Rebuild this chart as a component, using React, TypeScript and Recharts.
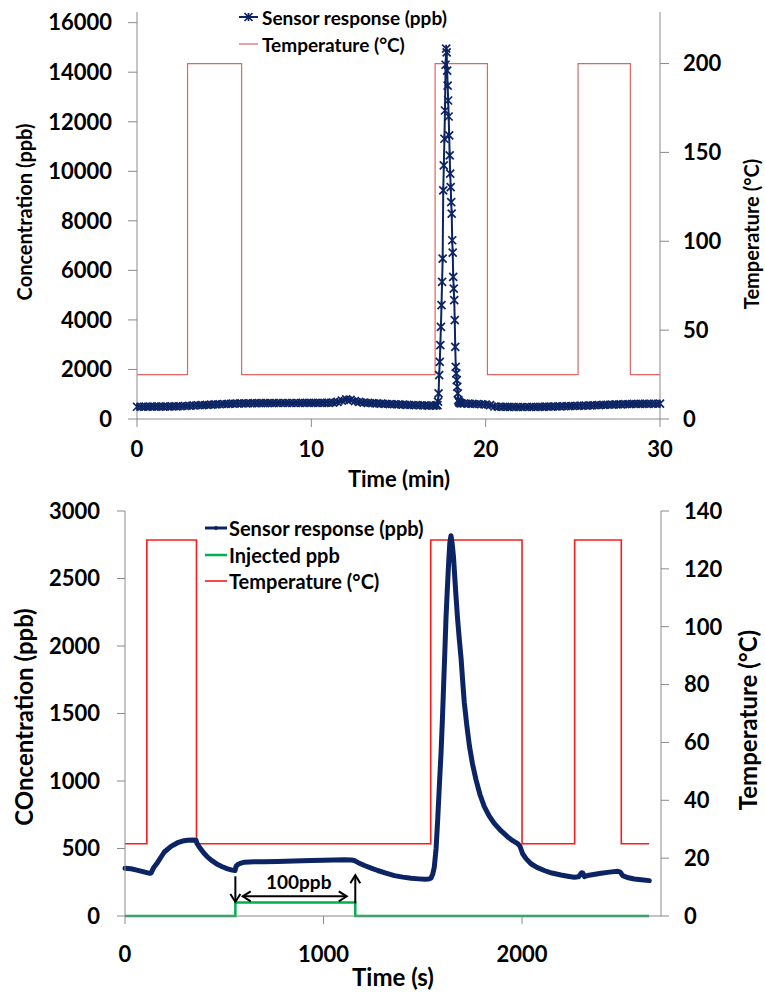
import React from 'react'
import { LineChart, Line, XAxis, YAxis, ReferenceLine } from 'recharts'

const FONT = 'Lato, "Open Sans", sans-serif'
const NAVY = '#0c2463'
const AXIS_GREY = '#8a8a8a'

// ---- top panel: time in minutes ----
const topTimeTicks = [0, 10, 20, 30]
const topConcTicks = [0, 2000, 4000, 6000, 8000, 10000, 12000, 14000, 16000]
const topTempTicks = [0, 50, 100, 150, 200]

// sensor response (ppb) vs time (min)
const topSensor: [number, number][] = [
  [0, 495], [0.25, 495], [0.5, 498], [0.75, 498], [1, 500], [1.25, 500], [1.5, 503], [1.75, 505],
  [2, 508], [2.25, 512], [2.5, 515], [2.75, 525], [3, 535], [3.25, 545], [3.5, 555], [3.75, 562],
  [4, 570], [4.25, 580], [4.5, 588], [4.75, 596], [5, 605], [5.25, 612], [5.5, 620], [5.75, 625],
  [6, 630], [6.25, 634], [6.5, 636], [6.75, 638], [7, 640], [7.25, 642], [7.5, 643], [7.75, 644],
  [8, 645], [8.25, 645], [8.5, 646], [8.75, 646], [9, 645], [9.25, 646], [9.5, 647], [9.75, 648],
  [10, 648], [10.25, 649], [10.5, 650], [10.75, 652], [11, 655], [11.25, 665], [11.5, 690], [11.75, 740],
  [12, 790], [12.25, 770], [12.5, 720], [12.75, 690], [13, 665], [13.25, 652], [13.5, 640], [13.75, 630],
  [14, 620], [14.25, 612], [14.5, 603], [14.75, 596], [15, 588], [15.25, 580], [15.5, 574], [15.75, 566],
  [16, 560], [16.25, 555], [16.5, 548], [16.75, 542], [17, 538], [17.15, 545],
  [17.233, 560], [17.267, 700], [17.3, 1036], [17.333, 1773], [17.367, 2310], [17.4, 2982],
  [17.433, 3720], [17.467, 4595], [17.5, 5534], [17.533, 6477], [17.567, 9229], [17.6, 10237],
  [17.633, 11313], [17.667, 12454], [17.7, 14300], [17.733, 14950],
  [17.762, 14800], [17.791, 14066], [17.82, 13461], [17.849, 12857], [17.878, 12212], [17.907, 11446],
  [17.936, 10640], [17.965, 9902], [17.994, 9362], [18.023, 8757], [18.052, 8290], [18.081, 7215],
  [18.11, 6719], [18.139, 5735], [18.168, 5267], [18.197, 4796], [18.226, 3990], [18.255, 2914],
  [18.284, 2108], [18.313, 1842], [18.342, 1572], [18.371, 1302], [18.4, 1036], [18.43, 766],
  [18.46, 700], [18.5, 660], [18.55, 640], [18.6, 632], [18.75, 625],
  [19, 618], [19.25, 612], [19.5, 605], [19.75, 595], [20, 585], [20.25, 560], [20.5, 505], [20.75, 495],
  [21, 490], [21.25, 488], [21.5, 486], [21.75, 485], [22, 485], [22.25, 484], [22.5, 484], [22.75, 486],
  [23, 488], [23.25, 492], [23.5, 496], [23.75, 500], [24, 505], [24.25, 510], [24.5, 515], [24.75, 520],
  [25, 525], [25.25, 530], [25.5, 535], [25.75, 540], [26, 548], [26.25, 555], [26.5, 562], [26.75, 570],
  [27, 576], [27.25, 582], [27.5, 588], [27.75, 594], [28, 600], [28.25, 604], [28.5, 608], [28.75, 610],
  [29, 612], [29.25, 614], [29.5, 615], [29.75, 616], [30, 617],
]

// heater temperature (°C) vs time (min)
const topTemperature: [number, number][] = [
  [0, 25], [2.9, 25], [2.9, 200], [6, 200], [6, 25], [17.1, 25], [17.1, 200],
  [20.1, 200], [20.1, 25], [25.3, 25], [25.3, 200], [28.3, 200], [28.3, 25], [30, 25],
]

// ---- bottom panel: time in seconds ----
const bottomTimeTicks = [0, 1000, 2000]
const bottomConcTicks = [0, 500, 1000, 1500, 2000, 2500, 3000]
const bottomTempTicks = [0, 20, 40, 60, 80, 100, 120, 140]

const bottomSensor: [number, number][] = [
  [0, 354], [30, 350], [60, 340], [100, 325], [125, 316], [131, 318], [145, 360], [165, 399],
  [198, 474], [232, 516], [265, 543], [290, 555], [316, 561], [340, 563], [358, 561], [362, 540],
  [374, 511], [395, 470], [416, 436], [440, 408], [467, 381], [490, 365], [517, 349], [540, 340],
  [554, 337], [560, 370], [568, 381], [585, 392], [602, 399], [650, 401], [700, 402], [769, 404],
  [850, 408], [937, 411], [1000, 413], [1050, 414], [1105, 416], [1140, 415], [1155, 411], [1175, 395],
  [1206, 374], [1240, 355], [1273, 337], [1310, 320], [1357, 299], [1400, 288], [1441, 279], [1480, 275],
  [1510, 272], [1530, 274], [1541, 280], [1550, 310], [1558, 361], [1567, 500], [1575, 711], [1583, 950],
  [1592, 1209], [1599, 1460], [1605, 1708], [1611, 1950], [1617, 2206], [1623, 2400], [1629, 2580],
  [1636, 2760], [1642, 2817], [1648, 2760], [1655, 2655], [1665, 2420], [1675, 2206], [1684, 2050],
  [1693, 1907], [1701, 1740], [1709, 1583], [1722, 1410], [1735, 1259], [1750, 1130], [1768, 1010],
  [1788, 900], [1810, 810], [1835, 740], [1860, 686], [1895, 630], [1928, 586], [1955, 556], [1978, 536],
  [1990, 515], [2003, 461], [2020, 425], [2045, 387], [2075, 360], [2112, 337], [2150, 318], [2196, 304],
  [2230, 295], [2263, 287], [2285, 290], [2300, 320], [2306, 319], [2314, 292], [2330, 300], [2360, 308],
  [2398, 317], [2440, 325], [2482, 331], [2495, 325], [2507, 299], [2530, 285], [2566, 274], [2600, 268],
  [2641, 262],
]

const bottomInjected: [number, number][] = [
  [0, 0], [556, 0], [556, 100], [1160, 100], [1160, 0], [2640, 0],
]

const bottomTemperature: [number, number][] = [
  [0, 25], [110, 25], [110, 130], [360, 130], [360, 25], [1540, 25], [1540, 130],
  [2000, 130], [2000, 25], [2265, 25], [2265, 130], [2500, 130], [2500, 25], [2640, 25],
]

const toRows = (pts: [number, number][]) => pts.map(([t, v]) => ({ t, v }))

const tickStyle = { fontSize: 22, fontWeight: 700, fill: '#000', fontFamily: FONT }

function StarDot(props: any) {
  const { cx, cy, index } = props
  if (cx == null || cy == null) return <g key={index} />
  const s = 4
  return (
    <path
      key={index}
      d={`M${cx - s},${cy - s}L${cx + s},${cy + s}M${cx - s},${cy + s}L${cx + s},${cy - s}M${cx},${cy - s}L${cx},${cy + s}`}
      stroke={NAVY}
      strokeWidth={1.7}
      fill="none"
    />
  )
}

// arrow drawn along a reference segment, heads at the end (and start)
function arrow(both: boolean, caption?: string) {
  return (props: any) => {
    const { x1, y1, x2, y2 } = props
    const len = Math.hypot(x2 - x1, y2 - y1) || 1
    const dx = (x2 - x1) / len
    const dy = (y2 - y1) / len
    const head = (tx: number, ty: number, ux: number, uy: number) =>
      `M${tx - 8 * ux - 5 * uy},${ty - 8 * uy + 5 * ux}L${tx},${ty}L${tx - 8 * ux + 5 * uy},${ty - 8 * uy - 5 * ux}`
    return (
      <g>
        <line x1={x1} y1={y1} x2={x2} y2={y2} stroke="#000" strokeWidth={2} />
        <path d={head(x2, y2, dx, dy)} stroke="#000" strokeWidth={2} fill="none" />
        {both && <path d={head(x1, y1, -dx, -dy)} stroke="#000" strokeWidth={2} fill="none" />}
        {caption && (
          <text
            x={(x1 + x2) / 2 + 4}
            y={y1 - 15}
            textAnchor="middle"
            dominantBaseline="central"
            fontSize={19}
            fontWeight={700}
            fontFamily={FONT}
          >
            {caption}
          </text>
        )}
      </g>
    )
  }
}

function TopPanel() {
  return (
    <div style={{ position: 'relative', width: 765, height: 494 }}>
      <LineChart width={765} height={494} margin={{ top: 12, right: 0, bottom: 0, left: 0 }}>
        <XAxis
          dataKey="t"
          type="number"
          domain={[0, 30]}
          ticks={topTimeTicks}
          height={75}
          tickSize={8}
          tickMargin={14}
          tick={tickStyle}
          stroke={AXIS_GREY}
        />
        <YAxis
          yAxisId="left"
          domain={[0, 16430]}
          ticks={topConcTicks}
          width={137}
          tickSize={9}
          tickMargin={16}
          tick={tickStyle}
          stroke={AXIS_GREY}
        />
        <YAxis
          yAxisId="right"
          orientation="right"
          domain={[0, 229]}
          ticks={topTempTicks}
          width={105}
          tickSize={9}
          tickMargin={14}
          tick={tickStyle}
          stroke={AXIS_GREY}
        />
        <Line
          yAxisId="right"
          data={toRows(topTemperature)}
          dataKey="v"
          type="linear"
          stroke="#e06666"
          strokeWidth={1.2}
          dot={false}
          isAnimationActive={false}
        />
        <Line
          yAxisId="left"
          data={toRows(topSensor)}
          dataKey="v"
          type="linear"
          stroke={NAVY}
          strokeWidth={2}
          dot={(p: any) => <StarDot {...p} key={p.index} />}
          isAnimationActive={false}
        />
      </LineChart>
      <svg width={765} height={494} style={{ position: 'absolute', left: 0, top: 0, pointerEvents: 'none' }}>
        <g fontFamily={FONT} fontWeight={700} fill="#000">
          <line x1={239} y1={17} x2={258} y2={17} stroke={NAVY} strokeWidth={2} />
          <StarDot cx={248.5} cy={17} index="leg" />
          <text x={262} y={17} fontSize={19} dominantBaseline="central">Sensor response (ppb)</text>
          <line x1={239} y1={44} x2={258} y2={44} stroke="#e06666" strokeWidth={1.2} />
          <text x={262} y={44} fontSize={19} dominantBaseline="central">Temperature (°C)</text>
          <text x={24} y={212} fontSize={20} textAnchor="middle" dominantBaseline="central" transform="rotate(-90 24 212)">
            Concentration (ppb)
          </text>
          <text x={751} y={234} fontSize={20} textAnchor="middle" dominantBaseline="central" transform="rotate(-90 751 234)">
            Temperature (°C)
          </text>
          <text x={399} y={478} fontSize={22} textAnchor="middle" dominantBaseline="central">Time (min)</text>
        </g>
      </svg>
    </div>
  )
}

function BottomPanel() {
  return (
    <div style={{ position: 'relative', width: 765, height: 500 }}>
      <LineChart width={765} height={500} margin={{ top: 17, right: 0, bottom: 0, left: 0 }}>
        <XAxis
          dataKey="t"
          type="number"
          domain={[0, 2700]}
          ticks={bottomTimeTicks}
          height={78}
          tickSize={8}
          tickMargin={22}
          tick={tickStyle}
          stroke={AXIS_GREY}
        />
        <YAxis
          yAxisId="left"
          domain={[0, 3000]}
          ticks={bottomConcTicks}
          width={125}
          tickSize={8}
          tickMargin={17}
          tick={tickStyle}
          stroke={AXIS_GREY}
        />
        <YAxis
          yAxisId="right"
          orientation="right"
          domain={[0, 140]}
          ticks={bottomTempTicks}
          width={104}
          tickSize={8}
          tickMargin={15}
          tick={tickStyle}
          stroke={AXIS_GREY}
        />
        <Line
          yAxisId="right"
          data={toRows(bottomTemperature)}
          dataKey="v"
          type="linear"
          stroke="#ff1a1a"
          strokeWidth={1.6}
          dot={false}
          isAnimationActive={false}
        />
        <Line
          yAxisId="left"
          data={toRows(bottomInjected)}
          dataKey="v"
          type="linear"
          stroke="#00b050"
          strokeWidth={2.5}
          dot={false}
          isAnimationActive={false}
        />
        <Line
          yAxisId="left"
          data={toRows(bottomSensor)}
          dataKey="v"
          type="linear"
          stroke={NAVY}
          strokeWidth={5}
          strokeLinejoin="round"
          strokeLinecap="round"
          dot={false}
          isAnimationActive={false}
        />
        <ReferenceLine yAxisId="left" segment={[{ x: 556, y: 294 }, { x: 556, y: 104 }]} shape={arrow(false)} />
        <ReferenceLine yAxisId="left" segment={[{ x: 1160, y: 94 }, { x: 1160, y: 302 }]} shape={arrow(false)} />
        <ReferenceLine yAxisId="left" segment={[{ x: 593, y: 146 }, { x: 1117, y: 146 }]} shape={arrow(true, '100ppb')} />
      </LineChart>
      <svg width={765} height={500} style={{ position: 'absolute', left: 0, top: 0, pointerEvents: 'none' }}>
        <g fontFamily={FONT} fontWeight={700} fill="#000">
          <line x1={205} y1={34} x2={227} y2={34} stroke={NAVY} strokeWidth={3} />
          <circle cx={216} cy={34} r={2} fill={NAVY} />
          <text x={229} y={34} fontSize={20} dominantBaseline="central">Sensor response (ppb)</text>
          <line x1={205} y1={61} x2={227} y2={61} stroke="#00b050" strokeWidth={2.5} />
          <text x={229} y={61} fontSize={20} dominantBaseline="central">Injected ppb</text>
          <line x1={205} y1={87} x2={227} y2={87} stroke="#ff1a1a" strokeWidth={1.6} />
          <text x={229} y={87} fontSize={20} dominantBaseline="central">Temperature (°C)</text>
          <text x={23} y={223} fontSize={24} textAnchor="middle" dominantBaseline="central" transform="rotate(-90 23 223)">
            COncentration (ppb)
          </text>
          <text x={747} y={226} fontSize={24} textAnchor="middle" dominantBaseline="central" transform="rotate(-90 747 226)">
            Temperature (°C)
          </text>
          <text x={393} y={482} fontSize={24} textAnchor="middle" dominantBaseline="central">Time (s)</text>
        </g>
      </svg>
    </div>
  )
}

export default function App() {
  return (
    <div style={{ position: 'absolute', left: 0, top: 0, width: 765, height: 994, background: '#fff' }}>
      <TopPanel />
      <BottomPanel />
    </div>
  )
}
